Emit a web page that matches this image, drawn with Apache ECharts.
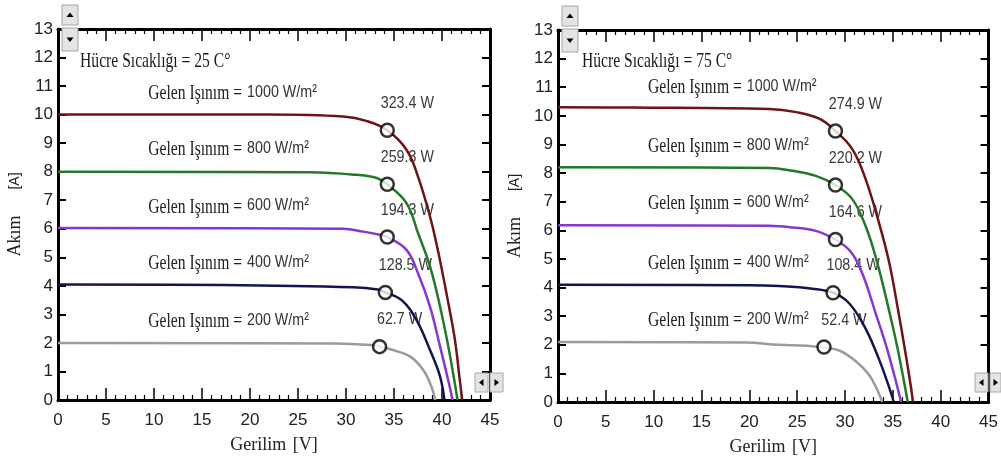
<!DOCTYPE html>
<html><head><meta charset="utf-8">
<script src="https://cdn.jsdelivr.net/npm/echarts@6/dist/echarts.min.js"></script>
<style>html,body{margin:0;padding:0;background:#fff;}#c{width:1001px;height:471px;}</style>
</head><body><div id="c"></div>
<script>
// ---------- data ----------
const irradiance = [1000, 800, 600, 400, 200];           // W/m²
const cellTemps = [25, 75];                                // °C
const seriesColors = ['#6e1414', '#23782a', '#8538d0', '#12154f', '#9b9b9b'];

// I-V curves at 25 °C : [voltage V, current A]
const curve25_1000 = [[0,10.0],[21.8,10.0],[29.7,9.93],[32.2,9.77],[34.3,9.45],[36.3,8.77],[37.5,7.83],[38.75,6.43],[39.6,5.2],[40.6,3.5],[41.35,2.1],[41.8,0.85],[42.1,0]];
const curve25_800  = [[0,8.0],[26.2,7.98],[31.1,7.89],[33.2,7.78],[34.3,7.56],[36.3,6.9],[37.5,5.85],[38.75,4.68],[39.8,3.27],[40.66,1.87],[41.35,0.55],[41.62,0]];
const curve25_600  = [[0,6.03],[29.7,6.0],[31.8,5.9],[33.5,5.79],[34.3,5.71],[36.3,5.26],[37.5,4.44],[38.75,3.27],[39.8,1.87],[40.8,0.47],[41.1,0]];
const curve25_400  = [[0,4.05],[17.2,4.03],[30.8,3.95],[33.3,3.87],[34.1,3.77],[35.8,3.5],[37.35,2.8],[38.75,1.75],[39.8,0.82],[40.25,0]];
const curve25_200  = [[0,2.0],[29,1.98],[32.8,1.92],[33.5,1.87],[34.9,1.75],[36.7,1.52],[38.05,1.05],[38.9,0.47],[39.3,0]];

// I-V curves at 75 °C
const curve75_1000 = [[0,10.3],[7.7,10.29],[22.1,10.24],[24.9,10.13],[27.3,9.9],[29.0,9.47],[30.76,8.84],[32.15,7.79],[33.6,6.2],[34.6,4.9],[35.5,3.3],[36.3,1.75],[36.9,0.5],[37.1,0]];
const curve75_800  = [[0,8.2],[22.1,8.18],[24.5,8.08],[26.95,7.9],[29.0,7.58],[30.76,7.09],[32.15,6.15],[33.3,4.95],[34.6,3.2],[35.45,1.94],[36.2,0.65],[36.55,0]];
const curve75_600  = [[0,6.18],[22,6.16],[24.5,6.1],[26.95,5.98],[29.0,5.67],[30.6,5.25],[31.8,4.5],[33.2,3.1],[34.4,1.85],[35.45,0.55],[35.85,0]];
const curve75_400  = [[0,4.1],[20,4.08],[23.1,4.05],[26.6,3.96],[28.75,3.82],[30.4,3.46],[32.0,2.66],[33.4,1.62],[34.4,0.72],[35.1,0]];
const curve75_200  = [[0,2.1],[19.6,2.08],[23.1,2.0],[26,1.97],[27.8,1.9],[29.4,1.8],[31.1,1.43],[32.5,0.95],[33.4,0.4],[33.9,0]];

// maximum power points
const mppV25 = [34.3, 34.3, 34.3, 34.1, 33.5];
const mppI25 = [9.45, 7.56, 5.71, 3.77, 1.87];
const mppP25 = [323.4, 259.3, 194.3, 128.5, 62.7];
const mppV75 = [29.0, 29.0, 29.0, 28.75, 27.8];
const mppI75 = [9.47, 7.58, 5.68, 3.82, 1.92];
const mppP75 = [274.9, 220.2, 164.6, 108.4, 52.4];

// annotation anchors (data coordinates)
const irrLabelV = 9.4;
const irrLabelI25 = [10.75, 8.77, 6.77, 4.8, 2.75];
const irrLabelI75 = [11.0, 8.93, 6.95, 4.85, 2.85];
const tempLabel25 = [2.3, 11.86];
const tempLabel75 = [2.5, 11.9];

// axis ranges
const xMin = 0, xMax = 45, xStep = 5;
const yMin = 0, yMax = 13, yStep = 1;

// ---------- chart ----------
const SANS = '"Liberation Sans", Arial, sans-serif';
const SERIF = '"Liberation Serif", "Times New Roman", serif';
const chart = echarts.init(document.getElementById('c'), null, {renderer: 'canvas'});

function xAxis(grid, pos, labels) {
  return {
    type: 'value', gridIndex: grid, position: pos, min: xMin, max: xMax, interval: xStep,
    axisLine: {show: true, onZero: false, lineStyle: {color: '#000', width: 3}},
    axisTick: {show: true, inside: true, length: 12, lineStyle: {color: '#000', width: 1.5}},
    minorTick: {show: true, splitNumber: 5, length: 5, lineStyle: {color: '#000', width: 1.2}},
    axisLabel: {show: labels, color: '#222', fontFamily: SANS, fontSize: 17, margin: 12},
    splitLine: {show: false}, minorSplitLine: {show: false},
    name: labels ? '{a|Gerilim}  {a|[V]}' : '',
    nameLocation: 'middle', nameGap: 36,
    nameTextStyle: {rich: {a: {fontFamily: SERIF, fontSize: 18, color: '#222'}}}
  };
}
function yAxis(grid, pos, labels) {
  return {
    type: 'value', gridIndex: grid, position: pos, min: yMin, max: yMax, interval: yStep,
    axisLine: {show: true, onZero: false, lineStyle: {color: '#000', width: 3}},
    axisTick: {show: true, inside: true, length: 8, lineStyle: {color: '#000', width: 2}},
    axisLabel: {show: labels, color: '#222', fontFamily: SANS, fontSize: 17, margin: 5},
    splitLine: {show: false},
    name: labels ? '{a|Akım}{g|}{b|[A]}' : '',
    nameLocation: 'middle', nameGap: 34,
    nameTextStyle: {rich: {
      a: {fontFamily: SERIF, fontSize: 18, color: '#222'},
      g: {width: 26},
      b: {fontFamily: SANS, fontSize: 14, color: '#222'}}}
  };
}

const curves = [
  [curve25_1000, curve25_800, curve25_600, curve25_400, curve25_200],
  [curve75_1000, curve75_800, curve75_600, curve75_400, curve75_200]
];
const mpps = [[mppV25, mppI25, mppP25], [mppV75, mppI75, mppP75]];

const series = [];
[0, 1].forEach(ci => {
  const ax = ci * 2;
  curves[ci].forEach((data, k) => {
    series.push({
      type: 'line', name: cellTemps[ci] + '°C ' + irradiance[k] + ' W/m²',
      xAxisIndex: ax, yAxisIndex: ax, data: data,
      smooth: 0.4, showSymbol: false, symbol: 'none',
      lineStyle: {color: seriesColors[k], width: 2.5}, z: 3, silent: true
    });
  });
  const [vv, ii, pp] = mpps[ci];
  series.push({
    type: 'scatter', xAxisIndex: ax, yAxisIndex: ax,
    data: vv.map((v, k) => [v, ii[k], pp[k]]),
    symbol: 'circle', symbolSize: 13, z: 5, silent: true,
    itemStyle: {color: '#fff', borderColor: '#000', borderWidth: 2.5}
  });
});

const option = {
  animation: false,
  backgroundColor: '#fff',
  grid: [
    {left: 58, top: 29, width: 432, height: 371},
    {left: 558, top: 30, width: 432, height: 372}
  ],
  xAxis: [xAxis(0, 'bottom', true), xAxis(0, 'top', false), xAxis(1, 'bottom', true), xAxis(1, 'top', false)],
  yAxis: [yAxis(0, 'left', true), yAxis(0, 'right', false), yAxis(1, 'left', true), yAxis(1, 'right', false)],
  series: series
};
chart.setOption(option);

// ---------- annotation texts & panel widgets ----------
const mctx = document.createElement('canvas').getContext('2d');
function textW(s, font) { mctx.font = font; return mctx.measureText(s).width; }
const serifFont = '22px ' + SERIF;
const sansFont = '17px ' + SANS;
const serifSqueeze = 0.71, sansSqueeze = 0.84;
const g = [];
[[0, irrLabelI25, tempLabel25, cellTemps[0], mpps[0]], [2, irrLabelI75, tempLabel75, cellTemps[1], mpps[1]]].forEach(([ax, li, tp, t, mp]) => {
  const finder = {xAxisIndex: ax, yAxisIndex: ax};
  const p0 = chart.convertToPixel(finder, tp);
  g.push({type: 'text', x: p0[0], y: p0[1], scaleX: serifSqueeze, z: 10,
    style: {text: 'Hücre Sıcaklığı = ' + t + ' C°', font: serifFont, fill: '#1a1a1a', verticalAlign: 'middle', textVerticalAlign: 'middle'}});
  li.forEach((iv, k) => {
    const p = chart.convertToPixel(finder, [irrLabelV, iv]);
    const s1 = 'Gelen Işınım =';
    g.push({type: 'text', x: p[0], y: p[1], scaleX: serifSqueeze, z: 10,
      style: {text: s1, font: serifFont, fill: '#222', verticalAlign: 'middle', textVerticalAlign: 'middle'}});
    g.push({type: 'text', x: p[0] + textW(s1, serifFont) * serifSqueeze + 5, y: p[1] - 1, scaleX: sansSqueeze, z: 10,
      style: {text: irradiance[k] + ' W/m²', font: sansFont, fill: '#333', verticalAlign: 'middle', textVerticalAlign: 'middle'}});
  });
  // power labels at the maximum power points
  const [vv, ii, pp] = mp;
  vv.forEach((v, k) => {
    const p = chart.convertToPixel(finder, [v, ii[k]]);
    g.push({type: 'text', x: p[0] + 20, y: p[1] - 27, scaleX: sansSqueeze, z: 2,
      style: {text: pp[k].toFixed(1) + ' W', font: sansFont, fill: '#3a3a3a',
        align: 'center', textAlign: 'center', verticalAlign: 'middle', textVerticalAlign: 'middle'}});
  });
});

// small control buttons drawn on the panels
function btn(x, y, w, h, dir) {
  g.push({type: 'rect', shape: {x: x, y: y, width: w, height: h}, z: 20,
    style: {fill: '#e4e4e4', stroke: '#a8a8a8', lineWidth: 1}});
  const cx = x + w / 2, cy = y + h / 2;
  let pts;
  if (dir === 'up') pts = [[cx - 3.5, cy + 2], [cx + 3.5, cy + 2], [cx, cy - 2.5]];
  else if (dir === 'down') pts = [[cx - 3.5, cy - 2], [cx + 3.5, cy - 2], [cx, cy + 2.5]];
  else if (dir === 'left') pts = [[cx + 2, cy - 3.5], [cx + 2, cy + 3.5], [cx - 2.5, cy]];
  else pts = [[cx - 2, cy - 3.5], [cx - 2, cy + 3.5], [cx + 2.5, cy]];
  g.push({type: 'polygon', shape: {points: pts}, z: 21, style: {fill: '#000'}});
}
btn(62, 5, 16, 20, 'up'); btn(62, 28, 16, 23, 'down');
btn(562, 6, 16, 20, 'up'); btn(562, 29, 16, 23, 'down');
btn(475, 373, 13, 19, 'left'); btn(490, 373, 13, 19, 'right');
btn(975, 373, 13, 19, 'left'); btn(990, 373, 11, 19, 'right');

chart.setOption({graphic: {elements: g}});
</script></body></html>
